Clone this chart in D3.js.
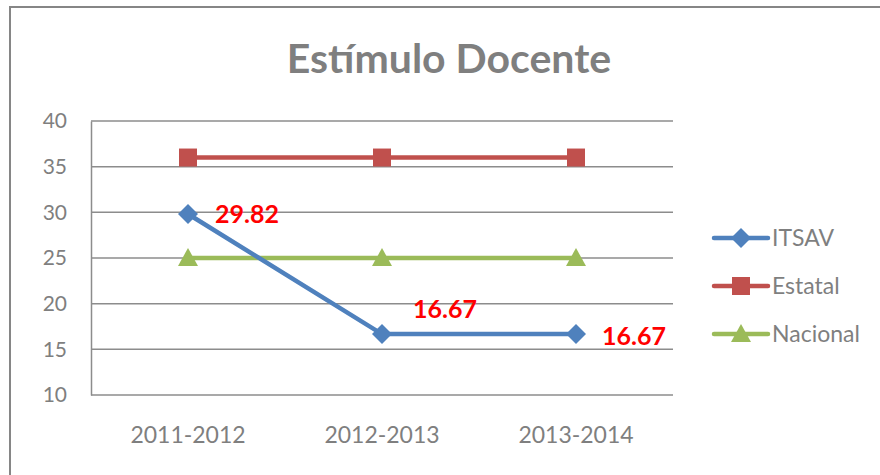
<!DOCTYPE html>
<html>
<head>
<meta charset="utf-8">
<script src="https://cdn.jsdelivr.net/npm/d3@7"></script>
<style>
  body { margin: 0; background: #fff; }
  svg { display: block; font-family: Lato, "Open Sans", sans-serif; }
</style>
</head>
<body>
<div id="chart"></div>
<script>
// data
const years = ["2011-2012", "2012-2013", "2013-2014"];
const itsav = [29.82, 16.67, 16.67];
const estatal = [36, 36, 36];
const nacional = [25, 25, 25];
const yTicks = [10, 15, 20, 25, 30, 35, 40];
const itsavLabels = ["29.82", "16.67", "16.67"];

const series = [
  { name: "ITSAV", values: itsav, color: "#4f81bd", marker: "diamond" },
  { name: "Estatal", values: estatal, color: "#c0504d", marker: "square" },
  { name: "Nacional", values: nacional, color: "#9bbb59", marker: "triangle" }
];

const w = 880, h = 475;
const padLeft = 91, padRight = 673, padTop = 121, padBot = 395;

const svg = d3.select("#chart").append("svg")
  .attr("width", w)
  .attr("height", h);

// outer chart border
svg.append("rect")
  .attr("x", 10).attr("y", 7)
  .attr("width", 900).attr("height", 500)
  .attr("fill", "#fff")
  .attr("stroke", "#868686")
  .attr("stroke-width", 2);

// title
svg.append("text")
  .text("Estímulo Docente")
  .attr("x", 449).attr("y", 73)
  .attr("text-anchor", "middle")
  .attr("fill", "#7f7f7f")
  .style("font-size", "41px")
  .style("font-weight", "bold");

// scales
const xScale = d3.scaleBand().domain(years).range([padLeft, padRight]);
const yScale = d3.scaleLinear().domain([10, 40]).range([padBot, padTop]);
const cx = d => xScale(d) + xScale.bandwidth() / 2;

// gridlines
svg.append("g")
  .selectAll("line")
  .data(yTicks)
  .enter().append("line")
  .attr("x1", padLeft).attr("x2", padRight)
  .attr("y1", d => yScale(d)).attr("y2", d => yScale(d))
  .attr("stroke", "#8c8c8c")
  .attr("stroke-width", 1.5);

// y axis
const yAxis = d3.axisLeft(yScale).tickValues(yTicks).tickSize(0).tickPadding(24);
const gy = svg.append("g")
  .attr("transform", `translate(${padLeft}, 0)`)
  .call(yAxis);
gy.select(".domain").attr("stroke", "#8c8c8c").attr("stroke-width", 1.5);
gy.selectAll("text")
  .attr("fill", "#7f7f7f")
  .style("font-size", "21px")
  .style("font-family", "Lato, 'Open Sans', sans-serif");

// x axis labels
const xAxis = d3.axisBottom(xScale).tickSize(0).tickPadding(32);
const gx = svg.append("g")
  .attr("transform", `translate(0, ${padBot})`)
  .call(xAxis);
gx.select(".domain").remove();
gx.selectAll("text")
  .attr("fill", "#7f7f7f")
  .style("font-size", "23px")
  .style("font-family", "Lato, 'Open Sans', sans-serif");

// markers
function marker(g, type, color) {
  if (type === "diamond") {
    g.append("path").attr("d", "M0,-10L10,0L0,10L-10,0Z").attr("fill", color);
  } else if (type === "square") {
    g.append("rect").attr("x", -9).attr("y", -9).attr("width", 18).attr("height", 18).attr("fill", color);
  } else {
    g.append("path").attr("d", "M0,-10L10,8L-10,8Z").attr("fill", color);
  }
}

const line = d3.line()
  .x((d, i) => cx(years[i]))
  .y(d => yScale(d));

// draw Nacional, Estatal, ITSAV order (ITSAV on top)
[series[2], series[1], series[0]].forEach(s => {
  svg.append("path")
    .attr("d", line(s.values))
    .attr("fill", "none")
    .attr("stroke", s.color)
    .attr("stroke-width", 4.5);
  s.values.forEach((v, i) => {
    const g = svg.append("g").attr("transform", `translate(${cx(years[i])}, ${yScale(v)})`);
    marker(g, s.marker, s.color);
  });
});

// data labels (ITSAV)
const labelOffsets = [[27, 9.5], [31, -16], [26, 11]];
itsavLabels.forEach((t, i) => {
  svg.append("text")
    .text(t)
    .attr("x", cx(years[i]) + labelOffsets[i][0])
    .attr("y", yScale(itsav[i]) + labelOffsets[i][1])
    .attr("fill", "#ff0000")
    .style("font-size", "25px")
    .style("font-weight", "bold");
});

// legend
const legend = svg.append("g");
series.forEach((s, i) => {
  const y = 238 + i * 48;
  legend.append("line")
    .attr("x1", 714).attr("x2", 768)
    .attr("y1", y).attr("y2", y)
    .attr("stroke", s.color)
    .attr("stroke-width", 4.5)
    .attr("stroke-linecap", "round");
  const g = legend.append("g").attr("transform", `translate(741, ${y})`);
  marker(g, s.marker, s.color);
  legend.append("text")
    .text(s.name)
    .attr("x", 772).attr("y", y + 7.5)
    .attr("fill", "#7f7f7f")
    .style("font-size", "23px");
});
</script>
</body>
</html>
